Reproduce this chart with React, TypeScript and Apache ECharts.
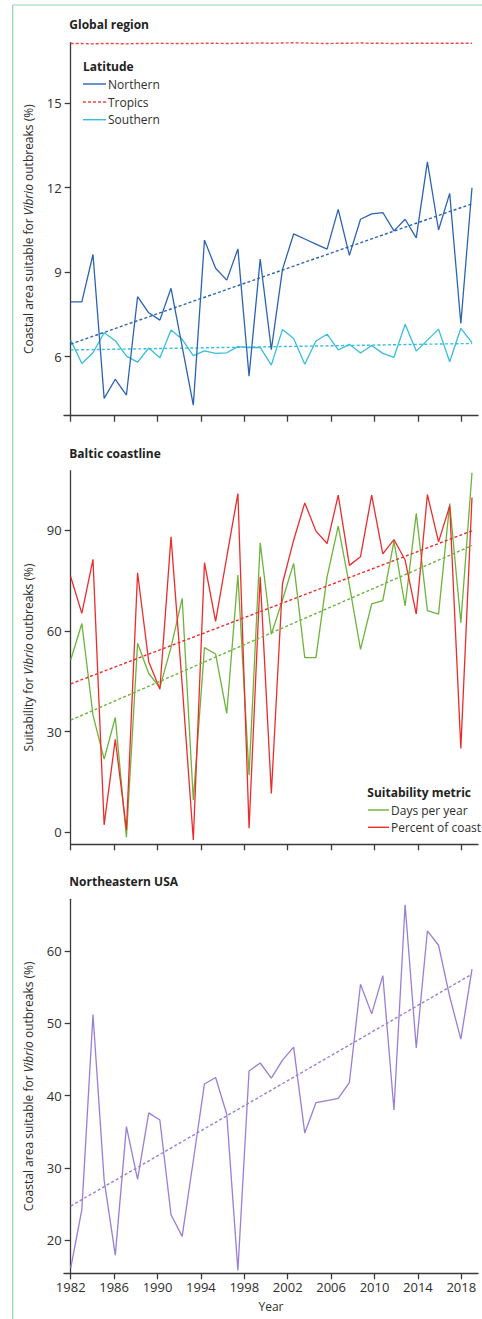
import React, { useEffect, useRef } from "react";
import * as echarts from "echarts";

// ---- data -------------------------------------------------------------
const years = [
  1982, 1983, 1984, 1985, 1986, 1987, 1988, 1989, 1990, 1991, 1992, 1993,
  1994, 1995, 1996, 1997, 1998, 1999, 2000, 2001, 2002, 2003, 2004, 2005,
  2006, 2007, 2008, 2009, 2010, 2011, 2012, 2013, 2014, 2015, 2016, 2017,
  2018,
];
const yearTicks = [1982, 1986, 1990, 1994, 1998, 2002, 2006, 2010, 2014, 2018];

// Global region (% of coastal area), by latitude band
const northern = [
  7.95, 7.95, 9.63, 4.52, 5.2, 4.64, 8.13, 7.56, 7.3, 8.43, 6.36, 4.28,
  10.14, 9.14, 8.72, 9.83, 5.31, 9.47, 6.25, 9.1, 10.36, 10.18, 10.0, 9.82,
  11.23, 9.6, 10.88, 11.07, 11.12, 10.47, 10.88, 10.22, 12.92, 10.5, 11.8,
  7.18, 12.0,
];
const tropics = [
  17.12, 17.12, 17.11, 17.12, 17.12, 17.11, 17.12, 17.12, 17.13, 17.12,
  17.12, 17.12, 17.13, 17.13, 17.12, 17.13, 17.13, 17.14, 17.13, 17.14,
  17.15, 17.14, 17.13, 17.12, 17.13, 17.13, 17.14, 17.13, 17.13, 17.12,
  17.13, 17.13, 17.13, 17.13, 17.13, 17.13, 17.13,
];
const southern = [
  6.59, 5.76, 6.14, 6.85, 6.57, 6.02, 5.81, 6.31, 5.96, 6.95, 6.62, 6.04,
  6.21, 6.12, 6.14, 6.36, 6.32, 6.33, 5.7, 6.97, 6.65, 5.73, 6.56, 6.8,
  6.24, 6.44, 6.13, 6.4, 6.12, 5.98, 7.15, 6.2, 6.59, 6.98, 5.82, 7.01, 6.5,
];
const northernTrend = [6.45, 11.43];
const southernTrend = [6.24, 6.47];

// Baltic coastline
const daysPerYear = [
  51.3, 62.2, 34.9, 21.8, 34.2, -1.5, 56.3, 47.3, 43.1, 55.1, 69.7, 9.6,
  55.0, 53.1, 35.4, 76.6, 17.0, 86.2, 59.0, 69.2, 80.1, 52.0, 52.0, 76.1,
  91.2, 73.6, 54.5, 68.0, 69.0, 86.7, 67.4, 95.0, 66.0, 65.0, 97.9, 62.4,
  107.1,
];
const percentOfCoast = [
  76.1, 65.2, 81.3, 2.2, 27.7, 0.7, 77.3, 50.8, 42.6, 88.0, 44.0, -2.3,
  80.3, 62.8, 82.0, 100.9, 1.2, 76.1, 11.6, 74.1, 87.0, 98.1, 89.7, 86.0,
  100.4, 79.5, 82.1, 100.4, 82.9, 87.2, 81.1, 65.0, 100.6, 86.5, 97.2, 25.0,
  99.7,
];
const daysTrend = [33.4, 85.4];
const percentTrend = [44.2, 89.8];

// Northeastern USA
const northeastUSA = [
  16.1, 24.2, 51.2, 28.3, 17.9, 35.7, 28.4, 37.6, 36.6, 23.5, 20.5, 31.0,
  41.6, 42.5, 37.4, 15.8, 43.4, 44.5, 42.4, 44.9, 46.7, 34.8, 39.0, 39.3,
  39.6, 41.8, 55.4, 51.3, 56.6, 38.0, 66.4, 46.6, 62.8, 60.8, 53.7, 47.8,
  57.5,
];
const northeastTrend = [24.7, 56.8];

const globalTicks = [6, 9, 12, 15];
const balticTicks = [0, 30, 60, 90];
const usaTicks = [20, 30, 40, 50, 60];

// ---- styling / layout -------------------------------------------------
const FONT = '"Open Sans", "Noto Sans", sans-serif';
const TEXT = "#2e2e2e";
const AXIS = "#3a3a3a";
const FRAME = "#8fd4b0";

const C_NORTH = "#2b63b3";
const C_TROP = "#f04848";
const C_SOUTH = "#36bde0";
const C_DAYS = "#6cb43c";
const C_PCT = "#ee2b2b";
const C_USA = "#9b7ed3";

const X0 = 70.7; // pixel of the 1982 tick
const X_END = 478; // right end of the x axes
const YEAR_PX = 10.85; // tick spacing per year
const POINT_PX = 11.147; // spacing of the yearly points

const panels = [
  {
    title: "Global region",
    titleY: 24,
    top: 42.7,
    bottom: 415.7,
    left: 64,
    yMin: 3.906,
    yMax: 17.15,
    ticks: globalTicks,
    yName: "Coastal area suitable for {i|Vibrio} outbreaks (%)",
  },
  {
    title: "Baltic coastline",
    titleY: 453,
    top: 470.7,
    bottom: 844.3,
    left: 70.7,
    yMin: -3.575,
    yMax: 107.7,
    ticks: balticTicks,
    yName: "Suitability for {i|Vibrio} outbreaks (%)",
  },
  {
    title: "Northeastern USA",
    titleY: 881.7,
    top: 899.3,
    bottom: 1273.3,
    left: 64,
    yMin: 15.39,
    yMax: 67.16,
    ticks: usaTicks,
    yName: "Coastal area suitable for {i|Vibrio} outbreaks (%)",
  },
];

const pairs = (vals: number[]) => years.map((y, i) => [y, vals[i]]);
const trend = (ends: number[]) => [
  [years[0], ends[0]],
  [years[years.length - 1], ends[1]],
];

function lineSeries(
  panel: number,
  name: string,
  data: number[][],
  color: string,
  dash?: number[]
) {
  return {
    type: "line",
    name,
    xAxisIndex: panel * 2 + 1,
    yAxisIndex: panel,
    data,
    showSymbol: false,
    symbol: "none",
    silent: true,
    lineStyle: { color, width: dash ? 1.4 : 1.3, type: dash ? dash : "solid" },
  };
}

function legendItem(x: number, y: number, len: number, label: string, color: string, dash?: number[]) {
  return [
    {
      type: "line",
      shape: { x1: x, y1: y, x2: x + len, y2: y },
      style: { stroke: color, lineWidth: 1.4, lineDash: dash || null },
    },
    {
      type: "text",
      x: x + len + 2,
      y,
      style: {
        text: label,
        font: `12px ${FONT}`,
        fill: TEXT,
        textVerticalAlign: "middle",
        verticalAlign: "middle",
      },
    },
  ];
}

function boldText(x: number, y: number, text: string) {
  return {
    type: "text",
    x,
    y,
    style: {
      text,
      font: `bold 12px ${FONT}`,
      fill: "#222",
      verticalAlign: "middle",
      textVerticalAlign: "middle",
    },
  };
}

function buildOption() {
  const grid: any[] = [];
  const xAxis: any[] = [];
  const yAxis: any[] = [];

  panels.forEach((p, k) => {
    grid.push({
      left: p.left,
      top: p.top,
      width: X_END - p.left,
      height: p.bottom - p.top,
    });
    xAxis.push({
      type: "value",
      gridIndex: k,
      min: 1982 - (X0 - p.left) / YEAR_PX,
      max: 1982 + (X_END - X0) / YEAR_PX,
      axisLine: { show: true, onZero: false, lineStyle: { color: AXIS, width: 1.3 } },
      axisTick: {
        show: true,
        customValues: yearTicks,
        length: 6,
        lineStyle: { color: AXIS, width: 1.3 },
      },
      axisLabel: {
        show: k === 2,
        customValues: yearTicks,
        margin: 7,
        fontSize: 13,
        color: TEXT,
        fontFamily: FONT,
        formatter: (v: number) => String(Math.round(v)),
      },
      splitLine: { show: false },
      name: k === 2 ? "Year" : "",
      nameLocation: "middle",
      nameGap: 27,
      nameTextStyle: { fontSize: 12, color: TEXT, fontFamily: FONT },
    });
    // axis carrying the yearly points
    xAxis.push({
      type: "value",
      gridIndex: k,
      show: false,
      min: 1982 - (X0 - p.left) / POINT_PX,
      max: 1982 + (X_END - X0) / POINT_PX,
    });
    yAxis.push({
      type: "value",
      gridIndex: k,
      min: p.yMin,
      max: p.yMax,
      offset: p.left - X0,
      axisLine: { show: true, onZero: false, lineStyle: { color: AXIS, width: 1.3 } },
      axisTick: {
        show: true,
        customValues: p.ticks,
        length: 6,
        lineStyle: { color: AXIS, width: 1.3 },
      },
      axisLabel: {
        customValues: p.ticks,
        margin: 9,
        fontSize: 13,
        color: TEXT,
        fontFamily: FONT,
      },
      splitLine: { show: false },
      name: p.yName,
      nameLocation: "middle",
      nameGap: 36,
      nameTextStyle: {
        fontSize: 12,
        color: TEXT,
        fontFamily: FONT,
        rich: { i: { fontSize: 12, color: TEXT, fontFamily: FONT, fontStyle: "italic" } },
      },
    });
  });

  const dash = [3, 2.2];
  const series = [
    lineSeries(0, "Southern", pairs(southern), C_SOUTH),
    lineSeries(0, "Southern trend", trend(southernTrend), C_SOUTH, dash),
    lineSeries(0, "Northern", pairs(northern), C_NORTH),
    lineSeries(0, "Northern trend", trend(northernTrend), C_NORTH, dash),
    lineSeries(0, "Tropics", pairs(tropics), C_TROP, [3, 2]),
    lineSeries(1, "Days per year", pairs(daysPerYear), C_DAYS),
    lineSeries(1, "Percent of coast", pairs(percentOfCoast), C_PCT),
    lineSeries(1, "Days per year trend", trend(daysTrend), C_DAYS, dash),
    lineSeries(1, "Percent of coast trend", trend(percentTrend), C_PCT, dash),
    lineSeries(2, "Northeastern USA", pairs(northeastUSA), C_USA),
    lineSeries(2, "Northeastern USA trend", trend(northeastTrend), C_USA, dash),
  ];

  const graphic: any[] = [
    // frame
    {
      type: "line",
      shape: { x1: 12.7, y1: 5, x2: 482, y2: 5 },
      style: { stroke: FRAME, lineWidth: 1.2 },
    },
    {
      type: "line",
      shape: { x1: 12.7, y1: 5, x2: 12.7, y2: 1319 },
      style: { stroke: FRAME, lineWidth: 1.2 },
    },
    ...panels.map((p) => boldText(69.3, p.titleY, p.title)),
    // latitude legend
    boldText(83, 66.7, "Latitude"),
    ...legendItem(83, 84, 23, "Northern", C_NORTH),
    ...legendItem(83, 102, 23, "Tropics", C_TROP, [3, 2]),
    ...legendItem(83, 119.7, 23, "Southern", C_SOUTH),
    // suitability legend
    boldText(367.3, 792.3, "Suitability metric"),
    ...legendItem(368, 810, 21, "Days per year", C_DAYS),
    ...legendItem(368, 827.3, 21, "Percent of coast", C_PCT),
  ];

  return {
    animation: false,
    backgroundColor: "#ffffff",
    grid,
    xAxis,
    yAxis,
    series,
    graphic,
  };
}

export default function App() {
  const ref = useRef<HTMLDivElement>(null);
  useEffect(() => {
    if (!ref.current) return;
    const chart = echarts.init(ref.current, null, { renderer: "svg" });
    chart.setOption(buildOption() as any);
    return () => chart.dispose();
  }, []);
  return (
    <div
      ref={ref}
      style={{ position: "absolute", left: 0, top: 0, width: 482, height: 1319 }}
    />
  );
}
